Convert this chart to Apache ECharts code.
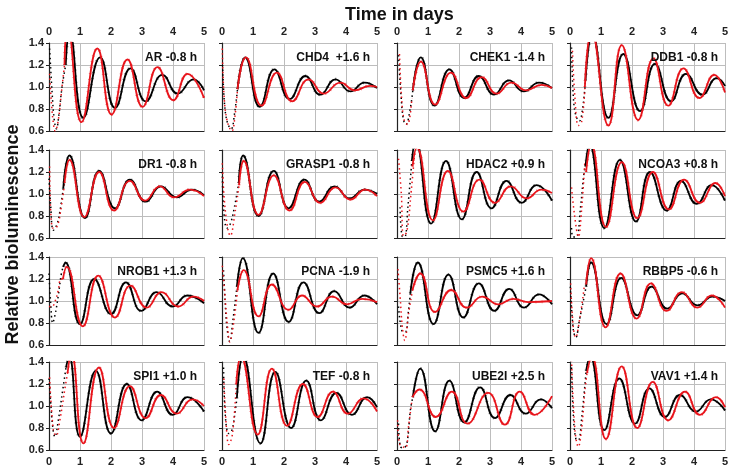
<!DOCTYPE html>
<html>
<head>
<meta charset="utf-8">
<script src="https://cdn.jsdelivr.net/npm/echarts@6/dist/echarts.min.js"></script>
<style>
  html, body { margin: 0; padding: 0; background: #fff; }
  #chart { width: 732px; height: 469px; }
</style>
</head>
<body>
<div id="chart"></div>
<script>
// panel labels
const genes = ['AR', 'CHD4 ', 'CHEK1', 'DDB1', 'DR1', 'GRASP1', 'HDAC2', 'NCOA3',
  'NROB1', 'PCNA', 'PSMC5', 'RBBP5', 'SPI1', 'TEF', 'UBE2I', 'VAV1'];
const shifts = ['-0.8', '+1.6', '-1.4', '-0.8', '-0.8', '-0.8', '+0.9', '+0.8',
  '+1.3', '-1.9', '+1.6', '-0.6', '+1.0', '-0.8', '+2.5', '+1.4'];
const xTicks = [0, 1, 2, 3, 4, 5];
const yTicks = [0.6, 0.8, 1.0, 1.2, 1.4];

// fitted curves: [day, value] at start, peaks, troughs and end
const blackFit = [
  [[0.54,1.2],[0.66,1.5],[1.11,0.72],[1.65,1.27],[2.13,0.81],[2.63,1.17],[3.12,0.87],[3.66,1.11],[4.15,0.94],[4.66,1.07],[5,0.97]],
  [[0.5,0.98],[0.75,1.27],[1.22,0.82],[1.69,1.16],[2.18,0.89],[2.69,1.1],[3.17,0.93],[3.66,1.07],[4.14,0.96],[4.6,1.04],[5,0.99]],
  [[0.51,0.97],[0.77,1.27],[1.21,0.83],[1.69,1.16],[2.17,0.9],[2.64,1.1],[3.13,0.93],[3.61,1.06],[4.09,0.96],[4.58,1.04],[5,0.99]],
  [[0.5,1.06],[0.72,1.48],[1.24,0.72],[1.72,1.3],[2.26,0.78],[2.74,1.21],[3.26,0.87],[3.74,1.12],[4.27,0.93],[4.73,1.08],[5,1.01]],
  [[0.46,1.05],[0.66,1.35],[1.16,0.78],[1.62,1.21],[2.13,0.87],[2.61,1.13],[3.12,0.93],[3.61,1.07],[4.12,0.97],[4.6,1.04],[5,0.99]],
  [[0.54,1.1],[0.68,1.35],[1.18,0.8],[1.67,1.21],[2.15,0.87],[2.66,1.13],[3.14,0.93],[3.63,1.07],[4.12,0.96],[4.6,1.04],[5,1.0]],
  [[0.48,1.3],[0.6,1.48],[1.1,0.73],[1.58,1.3],[2.09,0.77],[2.57,1.2],[3.05,0.87],[3.53,1.12],[4.02,0.92],[4.5,1.08],[5,0.94]],
  [[0.5,1.25],[0.63,1.45],[1.11,0.69],[1.61,1.31],[2.13,0.75],[2.58,1.2],[3.12,0.85],[3.58,1.12],[4.09,0.91],[4.57,1.08],[5,0.94]],
  [[0.46,1.31],[0.53,1.35],[1.0,0.79],[1.46,1.2],[2.0,0.88],[2.48,1.17],[2.98,0.91],[3.47,1.08],[3.99,0.95],[4.46,1.05],[5,0.98]],
  [[0.48,1.13],[0.67,1.39],[1.18,0.71],[1.65,1.25],[2.15,0.81],[2.63,1.17],[3.14,0.89],[3.62,1.09],[4.12,0.94],[4.59,1.05],[5,0.97]],
  [[0.43,1.07],[0.67,1.35],[1.18,0.79],[1.66,1.24],[2.14,0.85],[2.64,1.16],[3.14,0.91],[3.62,1.11],[4.1,0.94],[4.58,1.06],[5,0.97]],
  [[0.52,1.13],[0.68,1.35],[1.18,0.79],[1.65,1.21],[2.17,0.87],[2.63,1.13],[3.14,0.93],[3.62,1.07],[4.11,0.96],[4.6,1.04],[5,1.0]],
  [[0.55,1.35],[0.65,1.45],[1.0,0.72],[1.51,1.32],[2.0,0.75],[2.51,1.2],[2.99,0.87],[3.49,1.13],[3.99,0.92],[4.47,1.08],[5,0.95]],
  [[0.48,1.07],[0.68,1.45],[1.24,0.66],[1.72,1.31],[2.23,0.8],[2.72,1.23],[3.19,0.87],[3.69,1.12],[4.19,0.92],[4.68,1.08],[5,0.99]],
  [[0.51,1.08],[0.75,1.34],[1.23,0.77],[1.69,1.23],[2.17,0.85],[2.68,1.17],[3.16,0.89],[3.66,1.1],[4.15,0.93],[4.64,1.06],[5,0.98]],
  [[0.52,1.32],[0.65,1.45],[1.11,0.78],[1.59,1.25],[2.1,0.84],[2.56,1.16],[3.06,0.9],[3.55,1.1],[4.06,0.95],[4.54,1.06],[5,0.96]]
];
const redFit = [
  [[0.5,1.2],[0.6,1.55],[1.05,0.68],[1.56,1.35],[2.02,0.75],[2.53,1.25],[3.02,0.82],[3.5,1.18],[4.01,0.88],[4.47,1.12],[5,0.9]],
  [[0.5,0.98],[0.77,1.27],[1.27,0.83],[1.77,1.13],[2.26,0.87],[2.8,1.07],[3.28,0.94],[3.82,1.04],[4.28,0.97],[4.78,1.01],[5,1.0]],
  [[0.51,0.97],[0.77,1.23],[1.23,0.84],[1.74,1.13],[2.23,0.9],[2.73,1.09],[3.21,0.94],[3.69,1.04],[4.17,0.97],[4.66,1.02],[5,0.99]],
  [[0.48,1.0],[0.7,1.5],[1.24,0.65],[1.67,1.38],[2.2,0.7],[2.69,1.26],[3.17,0.83],[3.66,1.17],[4.17,0.9],[4.65,1.11],[5,0.95]],
  [[0.5,1.1],[0.66,1.31],[1.14,0.79],[1.62,1.2],[2.1,0.85],[2.61,1.12],[3.1,0.94],[3.58,1.07],[4.03,0.97],[4.55,1.04],[5,0.98]],
  [[0.55,1.08],[0.7,1.3],[1.18,0.81],[1.67,1.17],[2.18,0.85],[2.67,1.11],[3.17,0.92],[3.66,1.06],[4.14,0.95],[4.62,1.04],[5,0.98]],
  [[0.5,1.25],[0.64,1.42],[1.16,0.76],[1.64,1.21],[2.14,0.84],[2.66,1.13],[3.16,0.92],[3.67,1.07],[4.18,0.96],[4.66,1.04],[5,1.01]],
  [[0.52,1.2],[0.68,1.45],[1.16,0.7],[1.67,1.29],[2.17,0.78],[2.67,1.2],[3.19,0.86],[3.68,1.13],[4.19,0.92],[4.69,1.1],[5,0.98]],
  [[0.45,1.2],[0.57,1.31],[1.09,0.77],[1.59,1.23],[2.13,0.85],[2.63,1.14],[3.15,0.94],[3.63,1.08],[4.17,0.95],[4.66,1.04],[5,1.0]],
  [[0.5,1.1],[0.7,1.28],[1.18,0.86],[1.61,1.15],[2.15,0.92],[2.58,1.05],[3.06,0.95],[3.55,1.04],[4.03,0.97],[4.52,1.02],[5,0.99]],
  [[0.5,1.1],[0.75,1.25],[1.23,0.9],[1.75,1.1],[2.25,0.94],[2.75,1.04],[3.27,0.97],[3.75,1.02],[4.23,0.99],[5,1.0]],
  [[0.52,1.15],[0.68,1.39],[1.15,0.76],[1.63,1.25],[2.15,0.84],[2.61,1.16],[3.12,0.91],[3.61,1.08],[4.11,0.94],[4.57,1.05],[5,0.94]],
  [[0.6,1.3],[0.72,1.48],[1.11,0.66],[1.61,1.35],[2.1,0.8],[2.61,1.18],[3.12,0.89],[3.61,1.1],[4.12,0.93],[4.63,1.06],[5,1.0]],
  [[0.46,1.2],[0.61,1.45],[1.15,0.74],[1.61,1.34],[2.1,0.82],[2.61,1.2],[3.09,0.9],[3.58,1.13],[4.06,0.93],[4.57,1.07],[5,0.95]],
  [[0.5,1.08],[0.72,1.15],[1.25,0.9],[1.77,1.13],[2.27,0.84],[2.94,1.12],[3.48,0.83],[3.96,1.13],[4.44,0.92],[5,1.09]],
  [[0.55,1.3],[0.7,1.45],[1.16,0.7],[1.67,1.36],[2.17,0.8],[2.67,1.22],[3.17,0.87],[3.71,1.13],[4.19,0.92],[4.71,1.08],[5,0.99]]
];

// raw points of the first half day (before the fit starts)
const blackPre = [
  [[0.02,1.35],[0.1,0.95],[0.17,0.7],[0.24,0.62],[0.32,0.75],[0.42,1.0],[0.54,1.2]],
  [[0.02,1.2],[0.08,0.85],[0.18,0.67],[0.3,0.62],[0.4,0.75],[0.5,0.98]],
  [[0.05,1.29],[0.13,0.92],[0.21,0.7],[0.29,0.66],[0.43,0.81],[0.51,0.97]],
  [[0.05,1.36],[0.11,0.9],[0.19,0.74],[0.3,0.69],[0.41,0.81],[0.5,1.06]],
  [[0,1.14],[0.05,0.91],[0.14,0.67],[0.25,0.72],[0.35,0.84],[0.46,1.05]],
  [[0.01,1.2],[0.05,0.88],[0.16,0.69],[0.27,0.73],[0.4,0.88],[0.54,1.1]],
  [[0.1,0.88],[0.16,0.62],[0.25,0.61],[0.35,0.88],[0.48,1.3]],
  [[0.05,0.69],[0.1,0.61],[0.21,0.61],[0.34,0.88],[0.45,1.19],[0.5,1.25]],
  [[0,1.25],[0.05,1.0],[0.12,0.8],[0.2,0.88],[0.3,1.05],[0.4,1.25],[0.46,1.31]],
  [[0.05,1.28],[0.1,1.0],[0.16,0.76],[0.25,0.63],[0.35,0.82],[0.48,1.13]],
  [[0.05,0.95],[0.16,0.73],[0.27,0.72],[0.37,0.91],[0.43,1.07]],
  [[0.01,1.13],[0.11,0.73],[0.19,0.67],[0.3,0.82],[0.43,1.0],[0.52,1.13]],
  [[0,1.25],[0.05,1.05],[0.12,0.81],[0.19,0.72],[0.3,0.87],[0.44,1.14],[0.55,1.35]],
  [[0.05,1.35],[0.11,0.9],[0.22,0.75],[0.32,0.78],[0.43,0.96],[0.48,1.07]],
  [[0.05,0.84],[0.11,0.63],[0.21,0.62],[0.32,0.66],[0.43,0.96],[0.51,1.08]],
  [[0.05,1.35],[0.11,0.9],[0.19,0.7],[0.27,0.69],[0.38,0.9],[0.52,1.32]]
];
const redPre = [
  [[0.02,1.12],[0.08,0.85],[0.15,0.65],[0.2,0.6],[0.3,0.7],[0.4,0.95],[0.5,1.2]],
  [[0.01,1.35],[0.06,0.95],[0.16,0.7],[0.32,0.6],[0.42,0.74],[0.5,0.98]],
  [[0.08,1.3],[0.16,0.85],[0.25,0.68],[0.34,0.66],[0.48,0.9]],
  [[0.08,1.33],[0.16,0.9],[0.27,0.65],[0.38,0.69],[0.48,1.0]],
  [[0.02,1.25],[0.12,0.69],[0.25,0.7],[0.41,0.91],[0.5,1.1]],
  [[0.01,1.28],[0.11,0.84],[0.27,0.62],[0.43,0.85],[0.55,1.08]],
  [[0.05,1.32],[0.14,1.0],[0.21,0.62],[0.32,0.66],[0.46,1.03],[0.57,1.37]],
  [[0.05,1.06],[0.15,0.8],[0.27,0.61],[0.38,0.88],[0.48,1.3]],
  [[0,0.95],[0.1,0.95],[0.2,1.0],[0.3,1.1],[0.38,1.2],[0.45,1.2]],
  [[0.01,1.32],[0.08,1.1],[0.18,0.76],[0.25,0.63],[0.38,0.81],[0.5,1.1]],
  [[0.03,1.29],[0.1,1.04],[0.17,0.77],[0.25,0.64],[0.37,0.88],[0.5,1.1]],
  [[0.02,1.16],[0.1,0.78],[0.18,0.67],[0.32,0.85],[0.46,1.13]],
  [[0.02,1.26],[0.14,0.78],[0.23,0.73],[0.35,0.87],[0.52,1.17],[0.6,1.3]],
  [[0.06,1.25],[0.14,0.81],[0.22,0.65],[0.34,0.75],[0.46,1.2]],
  [[0.02,0.87],[0.08,0.66],[0.27,0.62],[0.37,0.81],[0.48,1.05]],
  [[0.05,1.42],[0.16,0.78],[0.27,0.63],[0.38,0.81],[0.48,1.14],[0.55,1.3]]
];

const FONT = '"Liberation Sans", Arial, sans-serif';
const colLeft = [49, 222, 397, 570];
const rowTop = [43, 150, 257, 362];
const panelW = 155;
const panelH = 88;

let chart = echarts.init(document.getElementById('chart'));

let grid = [], xAxis = [], yAxis = [], series = [];
let titles = [{
  text: 'Time in days',
  left: 340,
  top: 1,
  textStyle: { fontFamily: FONT, fontSize: 18, fontWeight: 'bold', color: '#111' }
}];

for (let i = 0; i < 16; i++) {
  const r = Math.floor(i / 4), c = i % 4;
  grid.push({ left: colLeft[c], top: rowTop[r], width: panelW, height: panelH });

  xAxis.push({
    type: 'value', gridIndex: i, min: 0, max: 5, interval: 1,
    position: r === 0 ? 'top' : 'bottom',
    axisLine: { show: r === 3, onZero: false, lineStyle: { color: '#222', width: 1.2 } },
    axisTick: { show: false },
    axisLabel: {
      show: r === 0 || r === 3, margin: 6,
      fontFamily: FONT, fontSize: 11, fontWeight: 'bold', color: '#222'
    },
    splitLine: { show: true, lineStyle: { color: '#bdbdbd', width: 1 } }
  });

  yAxis.push({
    type: 'value', gridIndex: i, min: 0.6, max: 1.4, interval: 0.2,
    axisLine: { show: true, lineStyle: { color: '#222', width: 1.2 } },
    axisTick: { show: true, length: 3, lineStyle: { color: '#222' } },
    axisLabel: {
      show: c === 0, margin: 5,
      formatter: v => v.toFixed(1),
      fontFamily: FONT, fontSize: 11, fontWeight: 'bold', color: '#222'
    },
    splitLine: { show: true, lineStyle: { color: '#bdbdbd', width: 1 } }
  });

  // bottom edge of every panel is dark
  if (r !== 3) {
    xAxis.push({
      type: 'value', gridIndex: i, min: 0, max: 5, position: 'bottom',
      axisLine: { show: true, onZero: false, lineStyle: { color: '#222', width: 1.2 } },
      axisTick: { show: false }, axisLabel: { show: false }, splitLine: { show: false }
    });
  }

  titles.push({
    text: genes[i] + ' ' + shifts[i] + ' h',
    right: 732 - (colLeft[c] + panelW) + 2,
    top: rowTop[r] + 4,
    textStyle: { fontFamily: FONT, fontSize: 12, fontWeight: 'bold', color: '#111' }
  });

  const xi = xAxis.length - (r !== 3 ? 2 : 1);
  const base = { type: 'line', xAxisIndex: xi, yAxisIndex: i, symbol: 'none', silent: true, clip: true };

  series.push(Object.assign({}, base, {
    data: blackPre[i], smooth: 0.4,
    lineStyle: { color: '#000', width: 1.5, type: [1.5, 3.2] }
  }));
  series.push(Object.assign({}, base, {
    data: redPre[i], smooth: 0.4,
    lineStyle: { color: '#e8141b', width: 1.5, type: [1.5, 3.2] }
  }));
  // scattered measurements around the fits
  series.push(Object.assign({}, base, {
    data: blackFit[i], smooth: 0.5,
    lineStyle: { color: '#000', width: 3, type: [1, 5], opacity: 0.5 }
  }));
  series.push(Object.assign({}, base, {
    data: redFit[i], smooth: 0.5,
    lineStyle: { color: '#e8141b', width: 3, type: [1, 5], opacity: 0.5 }
  }));
  series.push(Object.assign({}, base, {
    data: blackFit[i], smooth: 0.5,
    lineStyle: { color: '#000', width: 1.8 }
  }));
  series.push(Object.assign({}, base, {
    data: redFit[i], smooth: 0.5,
    lineStyle: { color: '#e8141b', width: 1.8 }
  }));
}

let option = {
  animation: false,
  backgroundColor: '#fff',
  title: titles,
  grid: grid,
  xAxis: xAxis,
  yAxis: yAxis,
  series: series,
  graphic: [{
    type: 'text',
    left: 4,
    top: 'middle',
    rotation: Math.PI / 2,
    style: {
      text: 'Relative bioluminescence',
      font: 'bold 18px ' + FONT,
      fill: '#111'
    }
  }]
};
chart.setOption(option);
</script>
</body>
</html>
